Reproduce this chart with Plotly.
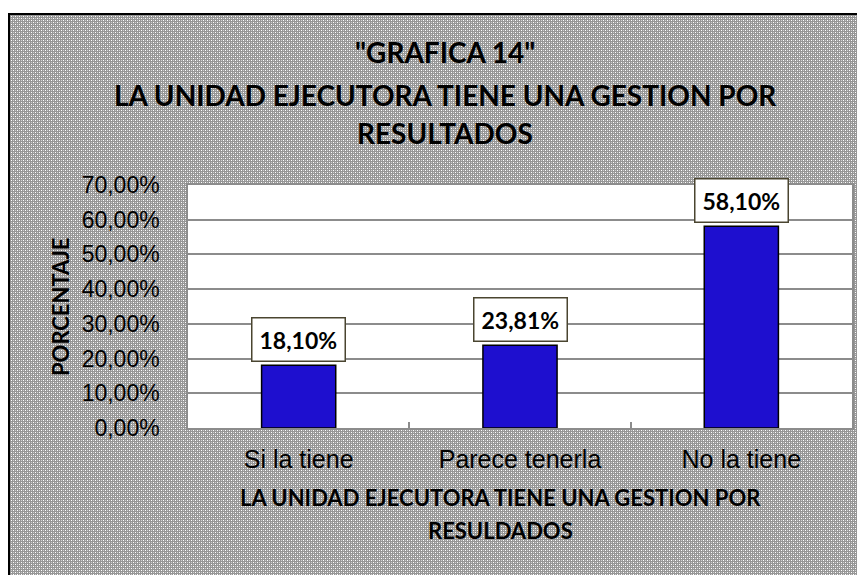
import base64, struct, zlib
import plotly.graph_objects as go

# ---------------- data ----------------
categories = ["Si la tiene", "Parece tenerla", "No la tiene"]
values = [0.1810, 0.2381, 0.5810]
title_lines = ['"GRAFICA 14"', "LA UNIDAD EJECUTORA TIENE UNA GESTION POR", "RESULTADOS"]
x_title_lines = ["LA UNIDAD EJECUTORA TIENE UNA GESTION POR", "RESULDADOS"]
y_title = "PORCENTAJE"
y_ticks = [0, 0.1, 0.2, 0.3, 0.4, 0.5, 0.6, 0.7]

# ---------------- geometry (figure px; page adds 8px body margin) ----------------
OFF = 8
W, H = 865, 575
L, T = 188 - OFF, 185 - OFF
PW, PH = 852 - 188, 428 - 185
R, B = W - L - PW, H - T - PH


def px_x(x):
    return (x - OFF - L) / PW


def px_y(y):
    return 1 - (y - OFF - T) / PH


# ---------------- patterned background (png) ----------------
def make_pattern(w, h):
    g, wh, lt = 150, 255, 205
    tile = [[g] * 4 for _ in range(4)]
    tile[0][0] = wh
    tile[2][2] = wh
    tile[0][2] = lt
    tile[2][0] = lt
    raw = bytearray()
    for y in range(h):
        raw.append(0)
        row = tile[y % 4]
        for x in range(w):
            v = row[x % 4]
            raw += bytes((v, v, v))

    def chunk(tag, data):
        c = struct.pack(">I", len(data)) + tag + data
        return c + struct.pack(">I", zlib.crc32(tag + data) & 0xFFFFFFFF)

    png = b"\x89PNG\r\n\x1a\n"
    png += chunk(b"IHDR", struct.pack(">IIBBBBB", w, h, 8, 2, 0, 0, 0))
    png += chunk(b"IDAT", zlib.compress(bytes(raw), 9))
    png += chunk(b"IEND", b"")
    return "data:image/png;base64," + base64.b64encode(png).decode()


bx0, by0 = 9, 14  # screen px of the outer frame
img_w, img_h = W - (bx0 - OFF), H - (by0 - OFF)
bg_src = make_pattern(img_w, img_h)

bar_text = [f"{v*100:.2f}".replace(".", ",") + "%" for v in values]

fig = go.Figure()
fig.add_trace(go.Bar(
    x=categories, y=values,
    marker=dict(color="#1E0FCF", line=dict(color="#000000", width=1.5)),
    hoverinfo="skip",
))

annotations = []
for c, v, t in zip(categories, values, bar_text):
    annotations.append(dict(
        x=c, y=v, xref="x", yref="y", text=f"<b>{t}</b>", showarrow=False,
        yanchor="bottom", yshift=3,
        font=dict(family="Lato", size=23, color="#000000"),
        bgcolor="#ffffff", bordercolor="#4a4530", borderwidth=1.5, borderpad=7,
    ))

title_y = [52, 95, 133]
for t, yy in zip(title_lines, title_y):
    annotations.append(dict(
        x=px_x(445), y=px_y(yy), xref="paper", yref="paper", text=f"<b>{t}</b>",
        showarrow=False, xanchor="center", yanchor="middle",
        font=dict(family="Lato", size=28, color="#000000"),
    ))

xt_y = [497, 530]
for t, yy in zip(x_title_lines, xt_y):
    annotations.append(dict(
        x=px_x(500), y=px_y(yy), xref="paper", yref="paper", text=f"<b>{t}</b>",
        showarrow=False, xanchor="center", yanchor="middle",
        font=dict(family="Lato", size=22, color="#000000"),
    ))

annotations.append(dict(
    x=px_x(60), y=px_y(307), xref="paper", yref="paper", text=f"<b>{y_title}</b>",
    showarrow=False, xanchor="center", yanchor="middle", textangle=-90,
    font=dict(family="Lato", size=22, color="#000000"),
))

fig.update_layout(
    width=W, height=H,
    margin=dict(l=L, r=R, t=T, b=B, pad=0),
    paper_bgcolor="#ffffff", plot_bgcolor="#ffffff",
    separators=",.",
    bargap=0.665,
    showlegend=False,
    annotations=annotations,
    images=[dict(
        source=bg_src, xref="paper", yref="paper",
        x=px_x(bx0), y=px_y(by0), sizex=img_w / PW, sizey=img_h / PH,
        xanchor="left", yanchor="top", sizing="stretch", layer="below",
    )],
    shapes=[
        dict(
            type="rect", xref="paper", yref="paper", x0=0, y0=0, x1=1, y1=1,
            line=dict(width=0), fillcolor="#ffffff", layer="below",
        ),
        dict(
            type="rect", xref="paper", yref="paper",
            x0=px_x(bx0), y0=px_y(by0), x1=px_x(W + 40), y1=px_y(H + 40),
            line=dict(color="#000000", width=2), fillcolor="rgba(0,0,0,0)", layer="above",
        ),
    ],
    xaxis=dict(
        showgrid=False, ticks="inside", tickson="boundaries", ticklen=6,
        tickcolor="#8c8c8c", tickwidth=1.5,
        showline=True, linecolor="#8c8c8c", linewidth=1.5, mirror=True,
        tickfont=dict(family="Liberation Sans", size=25, color="#000000"),
        ticklabelstandoff=8,
    ),
    yaxis=dict(
        range=[0, 0.7], tickvals=y_ticks, tickformat=".2%",
        showgrid=True, gridcolor="#8c8c8c", gridwidth=1.5,
        showline=True, linecolor="#8c8c8c", linewidth=1.5, mirror=True,
        ticks="", zeroline=False,
        tickfont=dict(family="Liberation Sans", size=23, color="#000000"),
        ticklabelstandoff=22,
    ),
)

fig.write_html("out.html")
